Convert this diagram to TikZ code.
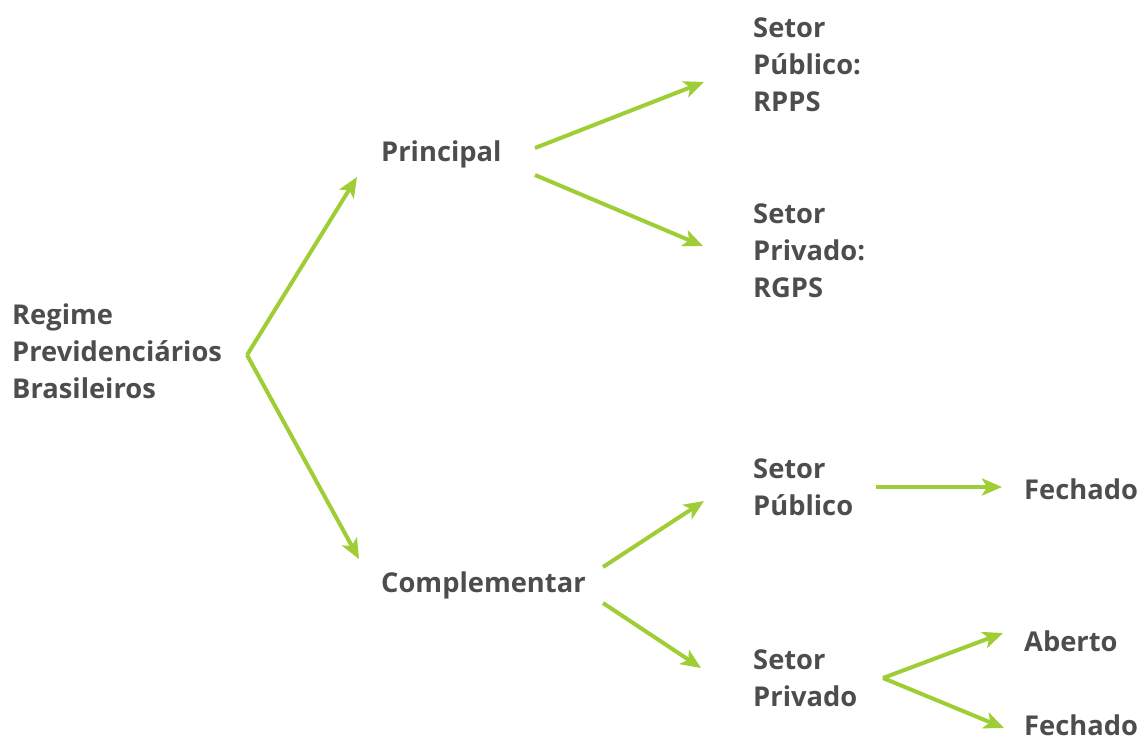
\documentclass[tikz,border=0pt]{standalone}
\usepackage{fontspec}
\setmainfont{Open Sans}
\usetikzlibrary{arrows.meta}
\definecolor{lbl}{HTML}{4D4D4D}
\definecolor{grn}{HTML}{9FCD35}
\tikzset{
  lab/.style={anchor=west, align=left, text=lbl, font=\bfseries\fontsize{27.3}{37}\selectfont, inner sep=0pt},
  arr/.style={draw=grn, line width=4pt, -{Stealth[length=20pt,width=17pt,inset=5pt]}}
}
\begin{document}
\begin{tikzpicture}[x=1pt,y=-1pt]
\useasboundingbox (0,0) rectangle (1142,740);
% labels
\node[lab] (reg) at (12,351) {Regime\\Previdenciários\\Brasileiros};
\node[lab] (pri) at (381,154) {Principal};
\node[lab] (com) at (381,585) {Complementar};
\node[lab] (rpps) at (753,65) {Setor\\Público:\\RPPS};
\node[lab] (rgps) at (753,251) {Setor\\Privado:\\RGPS};
\node[lab] (pub) at (753,487) {Setor\\Público};
\node[lab] (priv) at (753,678) {Setor\\Privado};
\node[lab] (fech1) at (1024,489) {Fechado};
\node[lab] (abe) at (1024,641) {Aberto};
\node[lab] (fech2) at (1024,725) {Fechado};
% connector points
\coordinate (v1) at (247,355);
\coordinate (t1) at (357,177);
\coordinate (t2) at (359,559);
\coordinate (p1) at (535,148);
\coordinate (p2) at (535,175);
\coordinate (t3) at (704,82);
\coordinate (t4) at (703,246);
\coordinate (c1) at (603,567);
\coordinate (c2) at (603,603);
\coordinate (t5) at (704,501);
\coordinate (t6) at (701,668);
\coordinate (s1) at (876,487);
\coordinate (t7) at (1002,487);
\coordinate (v2) at (883,678);
\coordinate (t8) at (1003,633);
\coordinate (t9) at (1004,728);
% connectors
\draw[arr] (v1) -- (t1);
\draw[arr] (v1) -- (t2);
\draw[arr] (p1) -- (t3);
\draw[arr] (p2) -- (t4);
\draw[arr] (c1) -- (t5);
\draw[arr] (c2) -- (t6);
\draw[arr] (s1) -- (t7);
\draw[arr] (v2) -- (t8);
\draw[arr] (v2) -- (t9);
\end{tikzpicture}
\end{document}
